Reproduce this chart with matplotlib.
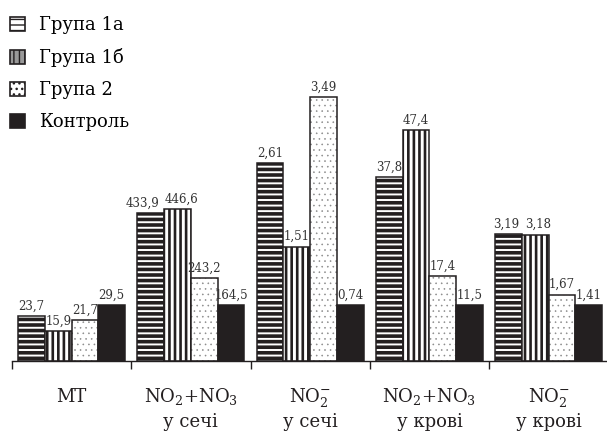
import matplotlib
matplotlib.use("Agg")
import matplotlib.pyplot as plt
from matplotlib.patches import Patch
import numpy as np

plt.rcParams['font.family'] = ['DejaVu Serif']
plt.rcParams['mathtext.fontset'] = 'dejavuserif'

# data
categories = ['МТ', 'NO$_2$+NO$_3$\nу сечі', 'NO$_2^{-}$\nу сечі',
              'NO$_2$+NO$_3$\nу крові', 'NO$_2^{-}$\nу крові']
group_1a = [23.7, 433.9, 2.61, 37.8, 3.19]
group_1b = [15.9, 446.6, 1.51, 47.4, 3.18]
group_2 = [21.7, 243.2, 3.49, 17.4, 1.67]
control = [29.5, 164.5, 0.74, 11.5, 1.41]
series_names = ['Група 1а', 'Група 1б', 'Група 2', 'Контроль']

BLACK = '#231f20'
W, H = 607, 432
fig = plt.figure(figsize=(W / 100, H / 100), dpi=100)
# baseline at y=361 px, left end at x=12 px
ax = fig.add_axes([12 / W, 71 / H, 596.4 / W, 361 / H])

x = np.arange(len(categories))
ctrl = np.array(control)
bw = 0.224
series = [group_1a, group_1b, group_2, control]
offsets = [-1.5 * bw, -0.5 * bw, 0.5 * bw, 1.5 * bw]


def set_hlw(bars, lw):
    for b in bars:
        if hasattr(b, 'set_hatch_linewidth'):
            b.set_hatch_linewidth(lw)


# heights are shown relative to the control value of each indicator
h = np.array(group_1a) / ctrl
with plt.rc_context({'hatch.linewidth': 2.6}):
    b1 = ax.bar(x + offsets[0], h, bw, color='white', edgecolor=BLACK,
                hatch='---', linewidth=1.1)
    set_hlw(b1, 2.6)

h = np.array(group_1b) / ctrl
with plt.rc_context({'hatch.linewidth': 1.9}):
    b2 = ax.bar(x + offsets[1], h, bw, color='white', edgecolor=BLACK,
                hatch='|||', linewidth=1.1)
    set_hlw(b2, 1.9)

h = np.array(group_2) / ctrl
with plt.rc_context({'hatch.linewidth': 0.4}):
    b3 = ax.bar(x + offsets[2], h, bw, color='white', edgecolor='#8a8a8a',
                hatch='...', linewidth=0)
    set_hlw(b3, 0.4)
ax.bar(x + offsets[2], h, bw, fill=False, edgecolor=BLACK, linewidth=1.1)

h = ctrl / ctrl
ax.bar(x + offsets[3], h, bw, color=BLACK, edgecolor=BLACK, linewidth=1.1)

# value labels (a few nudged sideways so neighbours don't collide)
nudge = {(1, 0): -6, (1, 1): 3, (4, 0): -2, (4, 1): 2}
for k, (vals, off) in enumerate(zip(series, offsets)):
    for xi, v, c in zip(x, vals, control):
        ax.annotate(str(v).replace('.', ','), (xi + off, v / c),
                    xytext=(nudge.get((xi, k), 0), 2.5),
                    textcoords='offset points', ha='center', va='bottom',
                    fontsize=8.5, color='#333333')

# category labels
for xi, lab in zip(x, categories):
    lines = lab.split('\n')
    ax.text(xi, -0.74, lines[0], ha='center', va='baseline', fontsize=13,
            color=BLACK, clip_on=False)
    if len(lines) > 1:
        ax.text(xi, -1.17, lines[1], ha='center', va='baseline', fontsize=13,
                color=BLACK, clip_on=False)

ax.set_xlim(-0.5, 4.5)
ax.set_ylim(0, 361 / 56)
for s in ['top', 'left', 'right']:
    ax.spines[s].set_visible(False)
ax.spines['bottom'].set_color(BLACK)
ax.spines['bottom'].set_linewidth(1.0)
ax.set_yticks([])
ax.set_xticks(np.arange(-0.5, 5, 1.0))
ax.set_xticklabels([])
ax.tick_params(axis='x', direction='out', length=6, width=1.0, color=BLACK)

# legend
with plt.rc_context({'hatch.linewidth': 2.0}):
    h1 = Patch(facecolor='white', edgecolor=BLACK, hatch='---', linewidth=1.2)
    h2 = Patch(facecolor='#999999', edgecolor=BLACK, hatch='|||', linewidth=1.2)
    h4 = Patch(facecolor=BLACK, edgecolor=BLACK, linewidth=1.2)
with plt.rc_context({'hatch.linewidth': 0.5}):
    h3 = Patch(facecolor='white', edgecolor=BLACK, hatch='...', linewidth=1.2)
fig.legend([h1, h2, h3, h4], series_names, loc='upper left',
           bbox_to_anchor=(10 / W, 1 - 16 / H), frameon=False, fontsize=13,
           handlelength=0.85, handleheight=0.85, handletextpad=0.75,
           labelspacing=0.78, borderpad=0, borderaxespad=0)

fig.savefig('out.png', dpi=100)
